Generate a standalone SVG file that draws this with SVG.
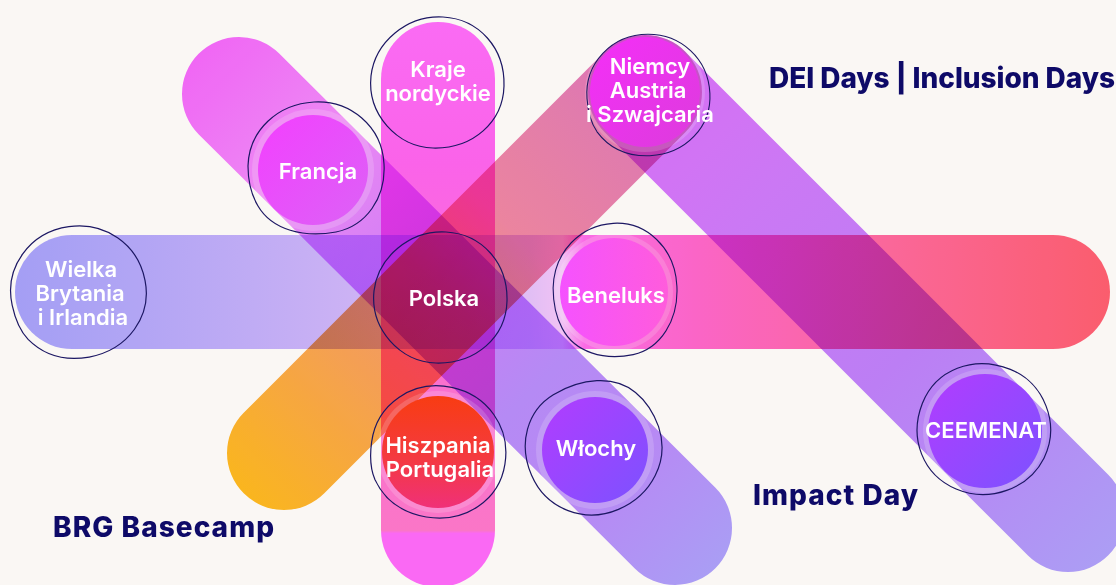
<svg xmlns="http://www.w3.org/2000/svg" width="1116" height="585" viewBox="0 0 1116 585">
<defs>
<linearGradient id="gH" gradientUnits="userSpaceOnUse" x1="15" y1="0" x2="1110" y2="0">
<stop offset="0" stop-color="#a7a3ff"/><stop offset="0.25" stop-color="#c8b4ff"/><stop offset="0.47" stop-color="#e6c4ff"/><stop offset="0.5" stop-color="#f6c8ff"/><stop offset="0.52" stop-color="#ff6ef0"/><stop offset="0.62" stop-color="#ff68d0"/><stop offset="0.8" stop-color="#ff6aa0"/><stop offset="1" stop-color="#ff6072"/>
</linearGradient>
<linearGradient id="gV" gradientUnits="userSpaceOnUse" x1="0" y1="22" x2="0" y2="587">
<stop offset="0" stop-color="#ff6eff"/><stop offset="0.25" stop-color="#ff66f4"/><stop offset="0.6" stop-color="#ff74da"/><stop offset="0.9" stop-color="#ff7ad0"/><stop offset="0.905" stop-color="#ff6cff"/><stop offset="1" stop-color="#ff6cff"/>
</linearGradient>
<linearGradient id="gO" gradientUnits="userSpaceOnUse" x1="241" y1="496" x2="688" y2="49">
<stop offset="0" stop-color="#ffbc1e"/><stop offset="0.28" stop-color="#f9a458"/><stop offset="0.45" stop-color="#f59a78"/><stop offset="0.6" stop-color="#f088a6"/><stop offset="0.8" stop-color="#e680b4"/><stop offset="1" stop-color="#e070c8"/>
</linearGradient>
<linearGradient id="gF" gradientUnits="userSpaceOnUse" x1="199" y1="54" x2="715" y2="566">
<stop offset="0" stop-color="#f56aff"/><stop offset="0.2" stop-color="#f28cff"/><stop offset="0.45" stop-color="#d080ff"/><stop offset="0.65" stop-color="#b98eff"/><stop offset="0.8" stop-color="#bc8cff"/><stop offset="1" stop-color="#aea2ff"/>
</linearGradient>
<linearGradient id="gP" gradientUnits="userSpaceOnUse" x1="605" y1="52" x2="1108" y2="554">
<stop offset="0" stop-color="#e070ff"/><stop offset="0.3" stop-color="#cf7cff"/><stop offset="0.6" stop-color="#c082ff"/><stop offset="0.8" stop-color="#b890ff"/><stop offset="1" stop-color="#b0a2ff"/>
</linearGradient>
<linearGradient id="cMag" x1="0" y1="0" x2="1" y2="1"><stop offset="0" stop-color="#f33fff"/><stop offset="1" stop-color="#dc62f6"/></linearGradient>
<linearGradient id="cNiem" x1="0" y1="0" x2="1" y2="1"><stop offset="0" stop-color="#f52ef8"/><stop offset="1" stop-color="#dc3cdc"/></linearGradient>
<linearGradient id="cBen" x1="0" y1="0" x2="1" y2="0"><stop offset="0" stop-color="#f552ff"/><stop offset="1" stop-color="#ff5cdc"/></linearGradient>
<linearGradient id="cHis" x1="0" y1="0" x2="0" y2="1"><stop offset="0" stop-color="#f83c12"/><stop offset="0.55" stop-color="#f43a40"/><stop offset="1" stop-color="#f03078"/></linearGradient>
<linearGradient id="cPur" x1="0" y1="0" x2="1" y2="1"><stop offset="0" stop-color="#b23cff"/><stop offset="1" stop-color="#7c52ff"/></linearGradient>
<path id="oA" d="M-67,4 C-70,-34 -40,-66 0,-66 C36,-66 66,-40 68,-2 C70,34 42,64 2,66 C-26,67 -44,56 -56,40 C-63,30 -66,18 -67,4Z"/>
<path id="oB" d="M-66,-6 C-62,-40 -30,-67 6,-65 C42,-63 68,-34 67,4 C66,40 36,67 -4,66 C-40,65 -70,32 -66,-6Z"/>
<path id="oC" d="M-68,-2 C-67,-38 -38,-64 -2,-66 C34,-68 66,-42 68,-4 C70,30 50,58 20,64 C-12,70 -44,62 -58,38 C-64,28 -68,14 -68,-2Z"/>
</defs>
<style>
.band{fill:none;stroke-width:114;stroke-linecap:round;mix-blend-mode:multiply}
.halo{fill:#ffffff;fill-opacity:0.16}
.ol{fill:none;stroke:#1c1763;stroke-width:1.2}
.lb{font-family:Inter,"Liberation Sans",sans-serif;font-weight:600;font-size:22px;fill:#ffffff;text-anchor:middle}
.tt{font-family:Inter,"Liberation Sans",sans-serif;font-weight:800;font-size:28px;fill:#0e0a68}
</style>
<rect x="0" y="0" width="1116" height="585" fill="#faf7f4"/>
<g id="connectors">
<line class="band" x1="72" y1="292" x2="1053" y2="292" stroke="url(#gH)"/>
<line class="band" x1="438" y1="79" x2="438" y2="530" stroke="url(#gV)"/>
<line class="band" x1="284" y1="453" x2="645" y2="92" stroke="url(#gO)"/>
<line class="band" x1="239" y1="94" x2="675" y2="528" stroke="url(#gF)"/>
<line class="band" x1="645" y1="92" x2="1068" y2="515" stroke="url(#gP)"/>
</g>
<g id="node-kraje">
<use href="#oB" class="ol" transform="translate(437,82)"/>
<text class="lb" x="438" y="77">Kraje</text>
<text class="lb" x="438" y="101">nordyckie</text>
</g>
<g id="node-niemcy">
<circle class="halo" cx="645" cy="92" r="60"/>
<circle cx="645" cy="92" r="55" fill="url(#cNiem)"/>
<use href="#oA" class="ol" transform="translate(648,95) scale(0.91,0.92)"/>
<text class="lb" x="650" y="74">Niemcy</text>
<text class="lb" x="648" y="98">Austria</text>
<text class="lb" x="650" y="122">i Szwajcaria</text>
</g>
<g id="node-francja">
<circle class="halo" cx="313" cy="170" r="61"/>
<circle cx="313" cy="170" r="55" fill="url(#cMag)"/>
<use href="#oC" class="ol" transform="translate(316,168)"/>
<text class="lb" x="318" y="179">Francja</text>
</g>
<g id="node-wielka">
<use href="#oA" class="ol" transform="translate(78,292) rotate(-8)"/>
<text class="lb" x="81" y="277">Wielka</text>
<text class="lb" x="80" y="301">Brytania</text>
<text class="lb" x="83" y="325">i Irlandia</text>
</g>
<g id="node-polska">
<use href="#oB" class="ol" transform="translate(440,297)"/>
<text class="lb" x="444" y="306">Polska</text>
</g>
<g id="node-beneluks">
<circle class="halo" cx="614" cy="292" r="59"/>
<circle cx="614" cy="292" r="54" fill="url(#cBen)"/>
<use href="#oC" class="ol" transform="translate(615,290) scale(0.91,1.01)"/>
<text class="lb" x="616" y="303">Beneluks</text>
</g>
<g id="node-hiszpania">
<circle class="halo" cx="438" cy="452" r="61"/>
<circle cx="438" cy="452" r="56" fill="url(#cHis)"/>
<use href="#oA" class="ol" transform="translate(438,452) rotate(12)"/>
<text class="lb" x="438" y="453">Hiszpania</text>
<text class="lb" x="440" y="477">Portugalia</text>
</g>
<g id="node-wlochy">
<circle class="halo" cx="595" cy="450" r="59"/>
<circle cx="595" cy="450" r="53" fill="url(#cPur)"/>
<use href="#oC" class="ol" transform="translate(594,448) rotate(160)"/>
<text class="lb" x="596" y="456">Włochy</text>
</g>
<g id="node-ceemenat">
<circle class="halo" cx="985" cy="431" r="62"/>
<circle cx="985" cy="431" r="57" fill="url(#cPur)"/>
<use href="#oB" class="ol" transform="translate(984,430) rotate(200)"/>
<text class="lb" x="986" y="438">CEEMENAT</text>
</g>
<g id="titles">
<text class="tt" x="769" y="88" textLength="346">DEI Days | Inclusion Days</text>
<text class="tt" x="753" y="505" textLength="165">Impact Day</text>
<text class="tt" x="53" y="537" textLength="221">BRG Basecamp</text>
</g>
</svg>
